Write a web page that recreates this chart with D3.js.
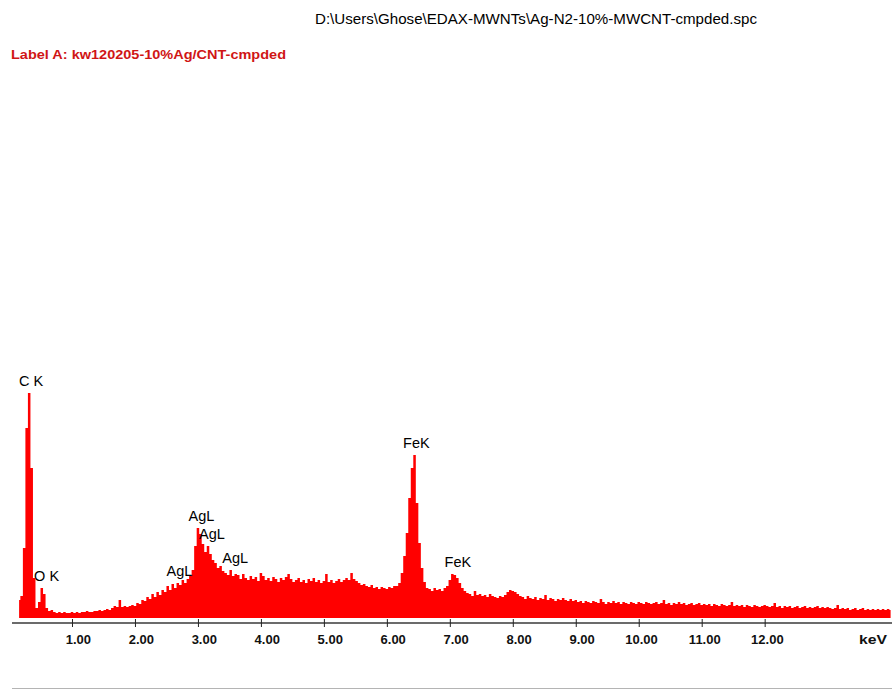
<!DOCTYPE html>
<html>
<head>
<meta charset="utf-8">
<script src="https://cdn.jsdelivr.net/npm/d3@7"></script>
<style>
  html, body { margin: 0; padding: 0; background: #ffffff; }
  svg { display: block; }
</style>
</head>
<body>
<svg id="chart" width="892" height="689"></svg>
<script>
// EDS spectrum, counts per channel (0.04 keV channels starting at 0.16 keV)
const startKeV = 0.16;
const keVPerChannel = 0.04;
const counts = [
  // 0.16 - 0.68 keV (C K, O K)
  18,22,70,190,225,150,40,10,16,30,24,10,7,8,
  // 0.72 - 1.48
  6,5,6,5,6,5,5,6,5,6,5,6,6,7,6,6,7,7,8,7,
  // 1.52 - 2.88
  8,9,8,10,12,11,18,11,12,11,12,13,12,15,14,18,17,21,19,24,
  21,26,23,28,26,32,28,34,30,35,33,38,35,39,42,
  // 2.92 - 3.60 (Ag L lines)
  48,72,90,84,74,66,72,64,58,55,50,52,47,45,43,48,42,44,
  // 3.64 - 6.12
  43,39,44,40,38,42,39,41,37,45,
  42,38,40,37,41,39,36,40,38,41,
  44,39,36,38,40,36,38,35,39,37,
  40,36,38,35,37,44,36,38,35,37,
  39,36,38,40,38,45,39,37,35,33,
  34,32,31,33,30,31,29,31,30,29,
  31,30,32,
  // 6.16 - 6.64 (Fe K-alpha)
  32,35,45,62,85,120,150,163,115,75,50,36,30,
  // 6.68 - 6.92
  29,27,30,28,29,27,30,
  // 6.96 - 7.28 (Fe K-beta)
  32,38,44,43,40,35,30,27,25,
  // 7.32 - 7.84
  24,22,27,23,24,22,23,21,24,22,21,20,22,21,
  // 7.88 - 8.12
  23,26,28,27,26,24,22,
  // 8.16 - 9.00
  21,19,22,20,19,21,18,20,19,23,18,20,19,17,19,18,20,18,17,19,17,18,
  // 9.04 - 10.00
  16,17,15,17,16,15,17,16,15,19,16,14,16,15,17,15,16,14,16,15,14,16,15,14,16,
  // 10.04 - 11.00
  15,14,16,15,14,15,16,14,15,18,14,15,13,15,14,16,14,15,13,14,15,13,14,15,13,
  // 11.04 - 12.00
  14,13,14,12,14,13,12,14,13,12,13,16,12,13,12,13,11,13,12,11,13,12,11,12,13,
  // 12.04 - 13.00
  12,11,12,15,11,12,10,12,11,12,10,11,12,10,11,12,10,11,10,11,12,10,11,10,11,
  // 13.04 - 14.00
  10,9,10,13,9,10,9,10,8,9,10,8,9,10,8,9,8,9,8,9,8,9,8,9,8
];

// Identified lines
const lineNames = ["C K", "O K", "AgL", "AgL", "AgL", "AgL", "FeK", "FeK"];
const lineEnergies = [0.277, 0.525, 2.634, 2.984, 3.151, 3.520, 6.398, 7.057];

// Energy axis
const tickValues = [1, 2, 3, 4, 5, 6, 7, 8, 9, 10, 11, 12];
const unitLabel = "keV";

const titleText = "D:\\Users\\Ghose\\EDAX-MWNTs\\Ag-N2-10%-MWCNT-cmpded.spc";
const sampleLabel = "Label A: kw120205-10%Ag/CNT-cmpded";

const spectrum = counts.map((c, i) => ({ keV: startKeV + i * keVPerChannel, c }));

const svg = d3.select("#chart");

const x = d3.scaleLinear().domain([0, 14]).range([9.03, 890.6]);
const y = d3.scaleLinear().domain([0, 560]).range([618, 58]);

// Header texts
svg.append("text")
  .attr("x", 315).attr("y", 24)
  .attr("font-family", "Liberation Sans, Arial, sans-serif")
  .attr("font-size", 15)
  .attr("fill", "#000")
  .attr("textLength", 442)
  .attr("lengthAdjust", "spacingAndGlyphs")
  .text(titleText);

svg.append("text")
  .attr("x", 11).attr("y", 59)
  .attr("font-family", "Liberation Sans, Arial, sans-serif")
  .attr("font-size", 13.5)
  .attr("font-weight", "bold")
  .attr("fill", "#d01515")
  .attr("textLength", 275)
  .attr("lengthAdjust", "spacingAndGlyphs")
  .text(sampleLabel);

// Spectrum fill
const area = d3.area()
  .x(d => x(d.keV))
  .y0(y(0))
  .y1(d => y(d.c))
  .curve(d3.curveStep);

svg.append("path")
  .datum(spectrum)
  .attr("d", area)
  .attr("fill", "#ff0000")
  .attr("stroke", "none");

// Peak labels, placed just above the local maximum near each line energy
lineNames.forEach((name, i) => {
  const e = lineEnergies[i];
  const peak = d3.max(spectrum.filter(d => Math.abs(d.keV - e) <= 0.06), d => d.c);
  svg.append("text")
    .attr("x", x(e) + 4.5)
    .attr("y", y(peak) - 7)
    .attr("text-anchor", "middle")
    .attr("font-family", "Liberation Sans, Arial, sans-serif")
    .attr("font-size", 14.5)
    .attr("fill", "#000")
    .text(name);
});

// Energy axis
svg.append("line")
  .attr("x1", 12).attr("x2", 892)
  .attr("y1", 623).attr("y2", 623)
  .attr("stroke", "#3a3a3a")
  .attr("stroke-width", 1.5);

const axisG = svg.append("g")
  .attr("transform", "translate(0,623)")
  .call(d3.axisBottom(x)
    .tickValues(tickValues)
    .tickFormat(d3.format(".2f"))
    .tickSizeOuter(0));

axisG.select(".domain").remove();
axisG.attr("font-family", "Liberation Sans, Arial, sans-serif")
  .attr("font-size", 13)
  .attr("font-weight", "bold");
axisG.selectAll(".tick line")
  .attr("y1", -4).attr("y2", 4)
  .attr("stroke", "#222");
axisG.selectAll(".tick text")
  .attr("text-anchor", "end")
  .attr("x", 18.5)
  .attr("y", 21)
  .attr("dy", null)
  .attr("fill", "#111");

svg.append("text")
  .attr("x", 887).attr("y", 644)
  .attr("text-anchor", "end")
  .attr("font-family", "Liberation Sans, Arial, sans-serif")
  .attr("font-size", 13)
  .attr("font-weight", "bold")
  .attr("fill", "#111")
  .attr("textLength", 28)
  .attr("lengthAdjust", "spacingAndGlyphs")
  .text(unitLabel);

// Bottom rule
svg.append("line")
  .attr("x1", 12).attr("x2", 892)
  .attr("y1", 688.5).attr("y2", 688.5)
  .attr("stroke", "#b4b4b4")
  .attr("stroke-width", 1);
</script>
</body>
</html>
